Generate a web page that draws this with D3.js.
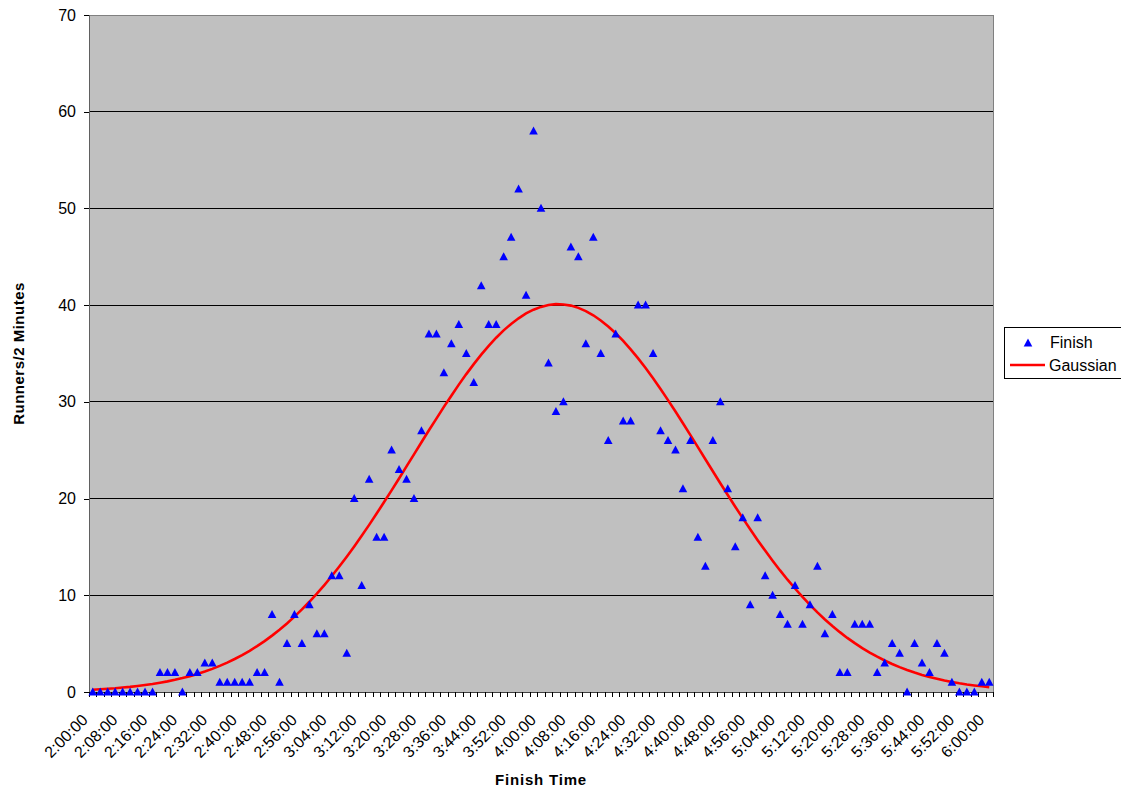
<!DOCTYPE html>
<html>
<head>
<meta charset="utf-8">
<script src="https://cdn.jsdelivr.net/npm/d3@7"></script>
<style>
  body { margin: 0; background: #fff; }
  text { font-family: "Liberation Sans", Arial, sans-serif; }
</style>
</head>
<body>
<script>
var categories = [
  "2:00:00","2:02:00","2:04:00","2:06:00","2:08:00","2:10:00","2:12:00","2:14:00","2:16:00","2:18:00",
  "2:20:00","2:22:00","2:24:00","2:26:00","2:28:00","2:30:00","2:32:00","2:34:00","2:36:00","2:38:00",
  "2:40:00","2:42:00","2:44:00","2:46:00","2:48:00","2:50:00","2:52:00","2:54:00","2:56:00","2:58:00",
  "3:00:00","3:02:00","3:04:00","3:06:00","3:08:00","3:10:00","3:12:00","3:14:00","3:16:00","3:18:00",
  "3:20:00","3:22:00","3:24:00","3:26:00","3:28:00","3:30:00","3:32:00","3:34:00","3:36:00","3:38:00",
  "3:40:00","3:42:00","3:44:00","3:46:00","3:48:00","3:50:00","3:52:00","3:54:00","3:56:00","3:58:00",
  "4:00:00","4:02:00","4:04:00","4:06:00","4:08:00","4:10:00","4:12:00","4:14:00","4:16:00","4:18:00",
  "4:20:00","4:22:00","4:24:00","4:26:00","4:28:00","4:30:00","4:32:00","4:34:00","4:36:00","4:38:00",
  "4:40:00","4:42:00","4:44:00","4:46:00","4:48:00","4:50:00","4:52:00","4:54:00","4:56:00","4:58:00",
  "5:00:00","5:02:00","5:04:00","5:06:00","5:08:00","5:10:00","5:12:00","5:14:00","5:16:00","5:18:00",
  "5:20:00","5:22:00","5:24:00","5:26:00","5:28:00","5:30:00","5:32:00","5:34:00","5:36:00","5:38:00",
  "5:40:00","5:42:00","5:44:00","5:46:00","5:48:00","5:50:00","5:52:00","5:54:00","5:56:00","5:58:00",
  "6:00:00"
];

var finish = [
  0,0,0,0,0,0,0,0,0,2,
  2,2,0,2,2,3,3,1,1,1,
  1,1,2,2,8,1,5,8,5,9,
  6,6,12,12,4,20,11,22,16,16,
  25,23,22,20,27,37,37,33,36,38,
  35,32,42,38,38,45,47,52,41,58,
  50,34,29,30,46,45,36,47,35,26,
  37,28,28,40,40,35,27,26,25,21,
  26,16,13,26,30,21,15,18,9,18,
  12,10,8,7,11,7,9,13,6,8,
  2,2,7,7,7,2,3,5,4,0,
  5,3,2,5,4,1,0,0,0,1,
  1
];

var gaussian = [
  0.24,0.29,0.34,0.39,0.46,0.53,0.62,0.72,0.83,0.96,
  1.10,1.26,1.44,1.64,1.87,2.12,2.39,2.70,3.04,3.41,
  3.81,4.26,4.74,5.26,5.83,6.44,7.09,7.79,8.54,9.33,
  10.17,11.06,11.99,12.97,13.99,15.05,16.15,17.28,18.45,19.64,
  20.85,22.08,23.33,24.57,25.82,27.06,28.27,29.48,30.64,31.78,
  32.87,33.90,34.88,35.79,36.63,37.39,38.06,38.64,39.14,39.53,
  39.82,40.01,40.10,40.07,39.95,39.72,39.39,38.95,38.42,37.80,
  37.09,36.30,35.43,34.50,33.50,32.44,31.33,30.18,29.00,27.79,
  26.56,25.32,24.07,22.83,21.59,20.37,19.16,17.98,16.83,15.70,
  14.62,13.58,12.57,11.61,10.70,9.83,9.01,8.23,7.50,6.82,
  6.19,5.59,5.05,4.54,4.07,3.65,3.26,2.90,2.57,2.28,
  2.01,1.77,1.56,1.37,1.19,1.04,0.90,0.78,0.68,0.59,
  0.50
];

var tickLabels = [
  "2:00:00","2:08:00","2:16:00","2:24:00","2:32:00","2:40:00","2:48:00","2:56:00",
  "3:04:00","3:12:00","3:20:00","3:28:00","3:36:00","3:44:00","3:52:00",
  "4:00:00","4:08:00","4:16:00","4:24:00","4:32:00","4:40:00","4:48:00","4:56:00",
  "5:04:00","5:12:00","5:20:00","5:28:00","5:36:00","5:44:00","5:52:00","6:00:00"
];
var yTicks = [0,10,20,30,40,50,60,70];

var WIDTH = 1121;
var HEIGHT = 788;
var LEFT = 89, RIGHT = 993, TOP = 15, BOTTOM = 692;

var translate = function (x, y) {
  return "translate(" + x + "," + y + ")";
};

var xScale = d3.scaleBand()
  .domain(categories)
  .range([LEFT, RIGHT])
  .padding(0);

// category boundaries, for the small ticks between points
var xEdge = d3.scaleLinear()
  .domain([0, categories.length])
  .range([LEFT, RIGHT]);

var yScale = d3.scaleLinear()
  .domain([0, 70])
  .range([BOTTOM, TOP]);

var cx = function (i) { return xScale(categories[i]) + xScale.bandwidth() / 2; };

var line = d3.line()
  .x(function (d, i) { return cx(i); })
  .y(function (d) { return yScale(d); });

var triangle = "M0,-4.6L4.3,3.4L-4.3,3.4Z";

var createChart = function () {
  var svg = d3.select("body").append("svg")
    .attr("width", WIDTH)
    .attr("height", HEIGHT);

  // plot area
  svg.append("rect")
    .attr("x", LEFT).attr("y", TOP)
    .attr("width", RIGHT - LEFT).attr("height", BOTTOM - TOP)
    .attr("fill", "#c0c0c0")
    .attr("stroke", "#808080")
    .attr("stroke-width", 1)
    .attr("shape-rendering", "crispEdges");

  // gridlines
  svg.append("g").selectAll("line")
    .data(yTicks.filter(function (d) { return d > 0 && d < 70; }))
    .enter().append("line")
    .attr("x1", LEFT).attr("x2", RIGHT)
    .attr("y1", function (d) { return yScale(d); })
    .attr("y2", function (d) { return yScale(d); })
    .attr("stroke", "#000")
    .attr("shape-rendering", "crispEdges");

  // y axis
  var yAxis = svg.append("g")
    .attr("transform", translate(LEFT, 0))
    .call(d3.axisLeft(yScale).tickValues(yTicks).tickSize(5).tickPadding(8));
  yAxis.select(".domain").attr("stroke", "#606060").attr("shape-rendering", "crispEdges");
  yAxis.selectAll(".tick line").attr("stroke", "#000").attr("shape-rendering", "crispEdges");
  yAxis.selectAll("text")
    .attr("font-size", "16px")
    .attr("font-family", "Liberation Sans, Arial, sans-serif")
    .attr("fill", "#000");

  // x axis: small ticks between categories
  var xTicks = svg.append("g")
    .attr("transform", translate(0, BOTTOM))
    .call(d3.axisBottom(xEdge).tickValues(d3.range(categories.length + 1)).tickFormat("").tickSize(5));
  xTicks.select(".domain").attr("stroke", "#404040").attr("shape-rendering", "crispEdges");
  xTicks.selectAll(".tick line").attr("stroke", "#000").attr("shape-rendering", "crispEdges");

  // x axis labels, rotated
  var xLabels = svg.append("g")
    .attr("transform", translate(0, BOTTOM))
    .call(d3.axisBottom(xScale).tickValues(tickLabels).tickSize(0));
  xLabels.select(".domain").remove();
  xLabels.selectAll("text")
    .attr("x", 0).attr("y", 0).attr("dy", 0)
    .attr("text-anchor", "end")
    .attr("transform", "translate(-4,29) rotate(-45)")
    .attr("font-size", "16px")
    .attr("font-family", "Liberation Sans, Arial, sans-serif")
    .attr("fill", "#000");

  // gaussian curve
  svg.append("path")
    .attr("d", line(gaussian))
    .attr("fill", "none")
    .attr("stroke", "#ff0000")
    .attr("stroke-width", 2.6);

  // finish points
  svg.append("g").selectAll("path")
    .data(finish)
    .enter().append("path")
    .attr("d", triangle)
    .attr("transform", function (d, i) { return translate(cx(i), yScale(d)); })
    .attr("fill", "#0000ff");

  // axis titles
  svg.append("text")
    .attr("x", (LEFT + RIGHT) / 2).attr("y", 785)
    .attr("text-anchor", "middle")
    .attr("font-size", "15px")
    .attr("font-weight", "bold")
    .attr("letter-spacing", "0.8px")
    .text("Finish Time");

  svg.append("text")
    .attr("transform", translate(24, (TOP + BOTTOM) / 2) + " rotate(-90)")
    .attr("text-anchor", "middle")
    .attr("font-size", "15px")
    .attr("font-weight", "bold")
    .attr("letter-spacing", "0.5px")
    .text("Runners/2 Minutes");

  // legend
  var legend = svg.append("g");
  legend.append("rect")
    .attr("x", 1004.5).attr("y", 327.5)
    .attr("width", 130).attr("height", 51)
    .attr("fill", "#fff")
    .attr("stroke", "#000")
    .attr("shape-rendering", "crispEdges");
  legend.append("path")
    .attr("d", triangle)
    .attr("transform", translate(1028, 343))
    .attr("fill", "#0000ff");
  legend.append("line")
    .attr("x1", 1010).attr("x2", 1045)
    .attr("y1", 365).attr("y2", 365)
    .attr("stroke", "#ff0000")
    .attr("stroke-width", 2.6);
  legend.append("text")
    .attr("x", 1050).attr("y", 348)
    .attr("font-size", "16px")
    .text("Finish");
  legend.append("text")
    .attr("x", 1049).attr("y", 371)
    .attr("font-size", "16px")
    .text("Gaussian");
};

window.onload = createChart;
</script>
</body>
</html>
